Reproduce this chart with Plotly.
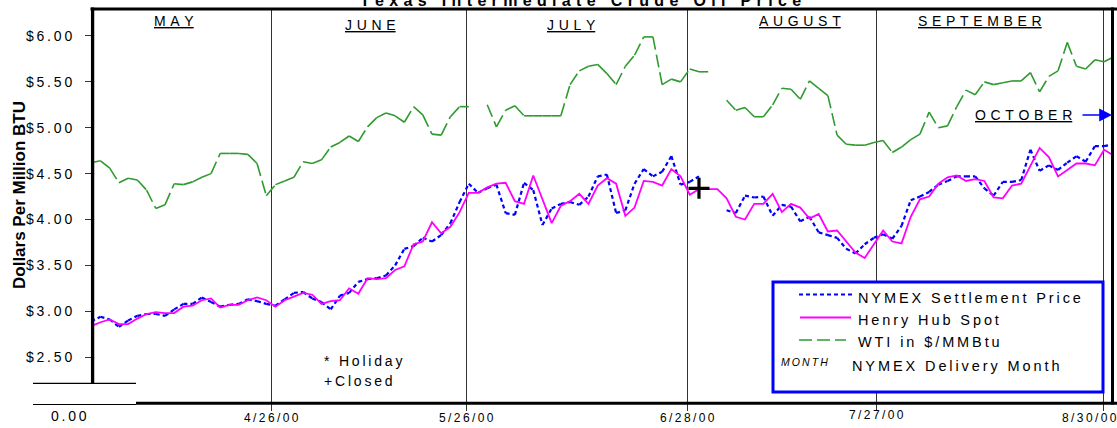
import pandas as pd
import plotly.graph_objects as go

# ---------------- data ----------------
trade_days = [d.strftime("%-m/%-d/%y") for d in pd.bdate_range("2000-03-30", "2000-09-01")]

henry_hub = [2.84, 2.88, 2.91, 2.86, 2.86, 2.92, 2.97, 2.99, 2.98, 2.98,
             3.05, 3.06, 3.12, 3.14, 3.04, 3.07, 3.07, 3.12, 3.15, 3.12,
             3.05, 3.12, 3.16, 3.20, 3.18, 3.08, 3.11, 3.12, 3.25, 3.19,
             3.36, 3.35, 3.36, 3.45, 3.49, 3.73, 3.76, 3.97, 3.85, 3.92,
             4.08, 4.29, 4.29, 4.35, 4.39, 4.40, 4.20, 4.17, 4.48, 4.21,
             3.96, 4.15, 4.20, 4.28, 4.17, 4.37, 4.45, 4.39, 4.04, 4.13,
             4.42, 4.41, 4.37, 4.55, 4.47, 4.27, 4.33, 4.33, 4.33, 4.23,
             4.03, 4.00, 4.17, 4.17, 4.28, 4.08, 4.17, 4.13, 4.01, 4.06,
             3.87, 3.88, 3.76, 3.64, 3.58, 3.73, 3.88, 3.76, 3.74, 4.03,
             4.22, 4.25, 4.39, 4.46, 4.48, 4.42, 4.44, 4.42, 4.24, 4.23,
             4.37, 4.39, 4.58, 4.78, 4.68, 4.47, 4.54, 4.61, 4.61, 4.59, 4.76, 4.70]

nymex = [2.89, 2.94, 2.91, 2.83, 2.90, 2.95, 2.97, 2.97, 2.95, 3.02,
         3.08, 3.08, 3.15, 3.10, 3.05, 3.07, 3.08, 3.13, 3.11, 3.08,
         3.06, 3.13, 3.20, 3.21, 3.14, 3.10, 3.02, 3.17, 3.20, 3.32,
         3.35, 3.36, 3.39, 3.50, 3.68, 3.71, 3.80, 3.76, 3.83, 3.96,
         4.19, 4.39, 4.29, 4.34, 4.38, 4.07, 4.05, 4.40, 4.32, 3.94,
         4.12, 4.17, 4.19, 4.16, 4.25, 4.47, 4.49, 4.07, 4.10, 4.39,
         4.55, 4.47, 4.52, 4.69, 4.38, 4.41, 4.47, None, None, 4.10,
         4.07, 4.26, 4.24, 4.25, 4.04, 4.16, 4.14, 3.98, 4.03, 3.86,
         3.83, 3.80, 3.68, 3.63, 3.73, 3.80, 3.84, 3.79, 3.93, 4.21,
         4.25, 4.30, 4.38, 4.42, 4.47, 4.47, 4.47, 4.34, 4.26, 4.41,
         4.41, 4.43, 4.76, 4.53, 4.59, 4.54, 4.62, 4.69, 4.63, 4.80, 4.80, 4.82]

wti = [4.62, 4.64, 4.56, 4.40, 4.45, 4.43, 4.32, 4.12, 4.16, 4.39,
       4.38, 4.41, 4.46, 4.50, 4.72, 4.72, 4.72, 4.71, 4.61, 4.26,
       4.38, 4.42, 4.46, 4.63, 4.61, 4.65, 4.79, 4.84, 4.91, 4.85,
       5.01, 5.11, 5.16, 5.13, 5.06, 5.23, 5.14, 4.93, 4.92, 5.12,
       5.23, 5.23, None, 5.25, 5.01, 5.19, 5.24, 5.13, 5.13, 5.13,
       5.13, 5.13, 5.47, 5.62, 5.67, 5.69, 5.59, 5.47, 5.67, 5.79,
       5.99, 5.99, 5.47, 5.53, 5.50, 5.64, 5.61, 5.61, None, 5.30,
       5.19, 5.22, 5.12, 5.12, 5.25, 5.43, 5.42, 5.31, 5.51, 5.43,
       5.35, 4.92, 4.82, 4.81, 4.81, 4.84, 4.86, 4.73, 4.79, 4.87,
       4.93, 5.17, 5.00, 5.02, 5.23, 5.41, 5.36, 5.50, 5.47, 5.49,
       5.51, 5.51, 5.60, 5.39, 5.56, 5.62, 5.93, 5.67, 5.64, 5.74, 5.72, 5.77]

closed_days = ["6/30/00"]
closed_values = [4.34]

x_tick_labels = ["4/26/00", "5/26/00", "6/28/00", "7/27/00", "8/30/00"]
y_tick_values = [2.5, 3.0, 3.5, 4.0, 4.5, 5.0, 5.5, 6.0]
month_names = ["MAY", "JUNE", "JULY", "AUGUST", "SEPTEMBER"]

# ---------------- layout helpers ----------------
W, H = 1117, 428
L, R, T, B = 92, 5, 8, 25
PW, PH = W - L - R, H - T - B
FONT = "Liberation Sans, Arial, sans-serif"
THIN = "\u2009"
WIDE = "\u2004"


def px(x):
    return (x - L) / PW


def py(y):
    return (H - B - y) / PH


def spaced(s, gap=THIN):
    return gap.join(s)


def segments(xs, ys):
    # each consecutive pair is its own sub-path so the dash pattern restarts at every vertex
    sx, sy = [], []
    for k in range(len(xs) - 1):
        if ys[k] is None or ys[k + 1] is None:
            continue
        sx += [xs[k], xs[k + 1], None]
        sy += [ys[k], ys[k + 1], None]
    return sx, sy


line_shift = [0.55, -0.23, 0.73, 0.23, 0.9]
line_pos = [trade_days.index(lbl) + s for lbl, s in zip(x_tick_labels, line_shift)]

GREEN = "#2F9A2F"
BLUE = "#0000FF"
PINK = "#FF00FF"

fig = go.Figure()

gx, gy = segments(trade_days, wti)
fig.add_trace(go.Scatter(x=gx, y=gy, mode="lines", name="WTI in $/MMBtu",
                         line=dict(color=GREEN, width=1.6, dash="13px,5px"),
                         connectgaps=False, hoverinfo="skip"))
bx, by = segments(trade_days, nymex)
fig.add_trace(go.Scatter(x=bx, y=by, mode="lines", name="NYMEX Settlement Price",
                         line=dict(color=BLUE, width=2.2, dash="4px,3px"),
                         connectgaps=False, hoverinfo="skip"))
fig.add_trace(go.Scatter(x=trade_days, y=henry_hub, mode="lines", name="Henry Hub Spot",
                         line=dict(color=PINK, width=1.8)))
fig.add_trace(go.Scatter(x=closed_days, y=closed_values, mode="markers", name="Closed",
                         marker=dict(symbol="cross-thin", size=15,
                                     line=dict(width=3.2, color="black"))))

shapes = []
# plot frame (irregular, as in the original)
shapes.append(dict(type="line", xref="paper", yref="paper", x0=px(90.5), x1=px(1117), y0=py(9), y1=py(9),
                   line=dict(color="black", width=3)))
shapes.append(dict(type="line", xref="paper", yref="paper", x0=px(92.6), x1=px(92.6), y0=py(383.3), y1=py(7.5),
                   line=dict(color="black", width=3.3)))
shapes.append(dict(type="line", xref="paper", yref="paper", x0=px(136), x1=px(1117), y0=py(403.3), y1=py(403.3),
                   line=dict(color="black", width=3)))
shapes.append(dict(type="line", xref="paper", yref="paper", x0=px(1112.5), x1=px(1112.5), y0=py(404.5), y1=py(7.5),
                   line=dict(color="black", width=3)))
shapes.append(dict(type="line", xref="paper", yref="paper", x0=px(33), x1=px(136), y0=py(383.3), y1=py(383.3),
                   line=dict(color="black", width=1.2)))
shapes.append(dict(type="line", xref="paper", yref="paper", x0=px(33), x1=px(136), y0=py(404.5), y1=py(404.5),
                   line=dict(color="black", width=1.2)))
# legend box
shapes.append(dict(type="rect", xref="paper", yref="paper", x0=px(773), x1=px(1103), y0=py(392), y1=py(282),
                   line=dict(color=BLUE, width=3), fillcolor="white", layer="above"))
shapes.append(dict(type="line", xref="paper", yref="paper", x0=px(799), x1=px(853), y0=py(294.5), y1=py(294.5),
                   line=dict(color=BLUE, width=2.2, dash="4px,3px"), layer="above"))
shapes.append(dict(type="line", xref="paper", yref="paper", x0=px(800), x1=px(851), y0=py(317.5), y1=py(317.5),
                   line=dict(color=PINK, width=1.8), layer="above"))
shapes.append(dict(type="line", xref="paper", yref="paper", x0=px(799), x1=px(846), y0=py(340), y1=py(340),
                   line=dict(color=GREEN, width=1.7, dash="13px,5px"), layer="above"))


def ann(text, x, y, size=14, xanchor="center", yanchor="middle", color="black", **kw):
    return dict(text=text, x=px(x), y=py(y), xref="paper", yref="paper", showarrow=False,
                font=dict(family=FONT, size=size, color=color), xanchor=xanchor, yanchor=yanchor, **kw)


annotations = []
annotations.append(ann("<b>" + spaced("Texas Intermediate Crude Oil Price", WIDE) + "</b>", 580, 0.5, size=16))
annotations.append(ann("<b>Dollars Per Million BTU</b>", 19, 195, size=17, textangle=-90))

month_xy = [(173.5, 21.5), (370, 25), (571, 25), (800, 21), (980, 21)]
for name, (mx, my) in zip(month_names, month_xy):
    annotations.append(ann("<u>" + spaced(name, WIDE) + "</u>", mx, my, size=14))
annotations.append(ann("<u>" + spaced("OCTOBER", WIDE) + "</u>", 1023.5, 114.5, size=14))
annotations.append(dict(x=px(1112), y=py(115), ax=-31, ay=0, xref="paper", yref="paper",
                        text="", showarrow=True, arrowhead=2,
                        arrowsize=1.6, arrowwidth=1.6, arrowcolor=BLUE, standoff=0))

annotations.append(ann(spaced("NYMEX Settlement Price"), 856, 298, size=14.5, xanchor="left"))
annotations.append(ann(spaced("Henry Hub Spot"), 856, 320, size=14.5, xanchor="left"))
annotations.append(ann(spaced("WTI in $/MMBtu"), 856, 342, size=14.5, xanchor="left"))
annotations.append(ann("<i>" + spaced("MONTH") + "</i>", 804.5, 362, size=10.5))
annotations.append(ann(spaced("NYMEX Delivery Month"), 850, 366, size=14.5, xanchor="left"))

annotations.append(ann(spaced("* Holiday"), 322, 361, size=14, xanchor="left"))
annotations.append(ann(spaced("+Closed"), 322, 381, size=14, xanchor="left"))
annotations.append(ann(spaced("0.00"), 69, 416, size=14))

x_label_shift = [0, 0, 0, 0, -14]
x_label_y = [418, 418, 418, 415, 418]
for lbl, pos, sh, ly in zip(x_tick_labels, line_pos, x_label_shift, x_label_y):
    annotations.append(dict(text=spaced(lbl), x=pos, y=py(ly), xref="x", yref="paper", showarrow=False,
                            xshift=sh, xanchor="center", yanchor="middle",
                            font=dict(family=FONT, size=12, color="black")))

fig.update_layout(
    width=W, height=H,
    margin=dict(l=L, r=R, t=T, b=B),
    paper_bgcolor="white", plot_bgcolor="white",
    showlegend=False,
    xaxis=dict(type="category", categoryorder="array", categoryarray=trade_days,
               range=[0.073, 110.86], tickmode="array", tickvals=line_pos,
               ticktext=[""] * len(line_pos), showticklabels=False,
               ticks="outside", ticklen=7, tickwidth=1.2, tickcolor="#333",
               showgrid=True, gridcolor="#333", gridwidth=1.2,
               showline=False, zeroline=False, fixedrange=True),
    yaxis=dict(range=[2.0, 6.305], tickmode="array", tickvals=y_tick_values,
               ticktext=[spaced("$%.2f" % v) for v in y_tick_values],
               ticks="outside", ticklen=6, tickwidth=1.2, tickcolor="#333",
               tickfont=dict(family=FONT, size=14, color="black"), ticklabelstandoff=10,
               showgrid=False, zeroline=False, showline=False, fixedrange=True),
    shapes=shapes,
    annotations=annotations,
)

fig.write_html("out.html", config={"displayModeBar": False},
               post_script="document.body.style.margin='0';document.body.style.padding='0';"
                           "document.documentElement.style.overflow='hidden';")
